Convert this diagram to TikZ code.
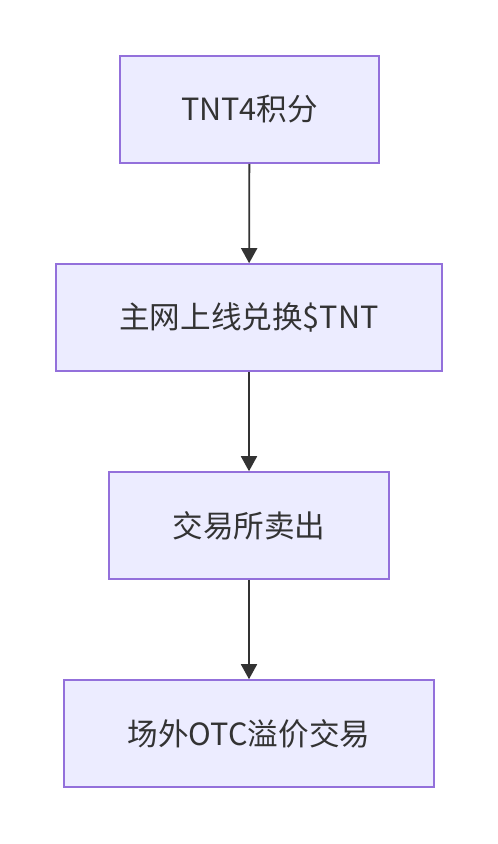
\documentclass[tikz,border=0pt]{standalone}
\usepackage{fontspec}
\setmainfont{Noto Sans CJK SC}
\usetikzlibrary{arrows.meta}
\definecolor{nodefill}{HTML}{ECECFF}
\definecolor{nodeline}{HTML}{9370DB}
\definecolor{edgecol}{HTML}{333333}
\begin{document}
\begin{tikzpicture}[x=1pt,y=-1pt,
  box/.style={draw=nodeline,fill=nodefill,line width=1.6pt,inner sep=0pt,font=\fontsize{30.6}{36}\selectfont,text=edgecol},
  edge/.style={draw=edgecol,line width=1.8pt,-{Triangle[length=15pt,width=16pt]}}]
\useasboundingbox (0,0) rectangle (498,844);
\node[box,minimum width=259pt,minimum height=107pt] (a) at (249.5,109.5) {TNT4积分};
\node[box,minimum width=386pt,minimum height=107pt] (b) at (249,317.5) {主网上线兑换\$TNT};
\node[box,minimum width=280pt,minimum height=107pt] (c) at (249,525.5) {交易所卖出};
\node[box,minimum width=370pt,minimum height=107pt] (d) at (249,733.5) {场外OTC溢价交易};
\draw[edge] (a) -- (b);
\draw[edge] (b) -- (c);
\draw[edge] (c) -- (d);
\end{tikzpicture}
\end{document}
